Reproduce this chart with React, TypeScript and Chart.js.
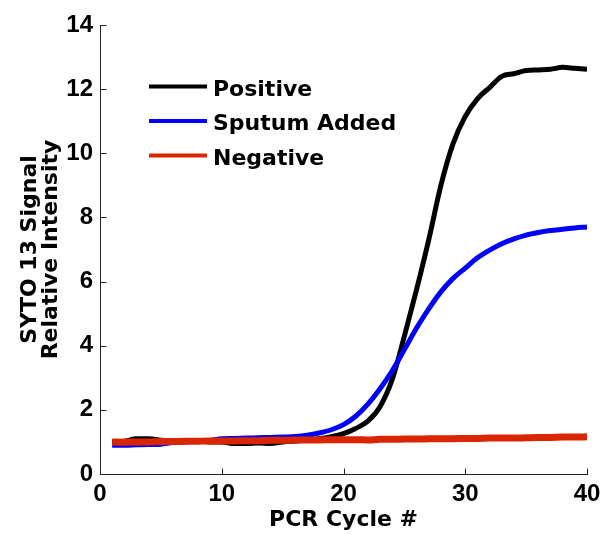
import React, { useEffect, useRef } from 'react';
import { Chart, registerables } from 'chart.js';

Chart.register(...registerables);

const cycles = [1, 2, 3, 4, 5, 6, 7, 8, 9, 10, 11, 12, 13, 14, 15, 16, 17, 18, 19, 20, 21, 22, 23, 24, 25, 26, 27, 28, 29, 30, 31, 32, 33, 34, 35, 36, 37, 38, 39, 40];

const positive = [1.0, 1.02, 1.1, 1.1, 1.05, 1.03, 1.02, 1.02, 1.0, 1.0, 0.95, 0.95, 0.97, 0.95, 1.0, 1.03, 1.06, 1.1, 1.16, 1.26, 1.42, 1.65, 2.1, 2.95, 4.3, 5.75, 7.3, 9.0, 10.3, 11.15, 11.7, 12.05, 12.4, 12.48, 12.58, 12.6, 12.62, 12.68, 12.65, 12.62];

const sputumAdded = [0.9, 0.9, 0.91, 0.92, 0.93, 0.98, 1.0, 1.02, 1.04, 1.1, 1.11, 1.12, 1.13, 1.14, 1.15, 1.17, 1.21, 1.28, 1.38, 1.54, 1.8, 2.18, 2.66, 3.22, 3.88, 4.55, 5.15, 5.68, 6.1, 6.42, 6.74, 6.98, 7.18, 7.33, 7.45, 7.53, 7.59, 7.63, 7.67, 7.7];

const negative = [1.0, 0.99, 1.0, 1.0, 1.01, 1.01, 1.02, 1.02, 1.03, 1.03, 1.03, 1.04, 1.04, 1.05, 1.05, 1.06, 1.06, 1.06, 1.07, 1.07, 1.07, 1.06, 1.08, 1.08, 1.09, 1.09, 1.1, 1.1, 1.1, 1.11, 1.11, 1.12, 1.12, 1.12, 1.13, 1.14, 1.14, 1.15, 1.15, 1.16];

const seriesLabels = ['Positive', 'Sputum Added', 'Negative'];
const seriesColors = ['#000000', '#0000ff', '#d92600'];
const xTicks = [0, 10, 20, 30, 40];
const yTicks = [0, 2, 4, 6, 8, 10, 12, 14];
const xTitle = 'PCR Cycle #';
const yTitle = ['SYTO 13 Signal', 'Relative Intensity'];

const titleFont = { family: '"DejaVu Sans", sans-serif', weight: 'bold' as const, size: 22 };
const tickFont = { family: '"Liberation Sans", Arial, sans-serif', weight: 'bold' as const, size: 24 };

const axesPlugin = {
  id: 'innerAxes',
  afterDraw(chart: any) {
    const { ctx, chartArea, scales } = chart;
    const xs = scales.x;
    const ys = scales.y;
    ctx.save();
    ctx.strokeStyle = '#222222';
    ctx.lineWidth = 1;
    const left = Math.round(chartArea.left) + 0.5;
    const bottom = Math.round(chartArea.bottom) + 0.5;
    ctx.beginPath();
    ctx.moveTo(left, Math.round(chartArea.top));
    ctx.lineTo(left, bottom);
    ctx.lineTo(Math.round(chartArea.right) + 1, bottom);
    ctx.stroke();
    xs.ticks.forEach((t: any) => {
      const px = Math.round(xs.getPixelForValue(t.value)) + 0.5;
      ctx.beginPath();
      ctx.moveTo(px, bottom);
      ctx.lineTo(px, bottom - 6);
      ctx.stroke();
    });
    ys.ticks.forEach((t: any) => {
      const py = Math.round(ys.getPixelForValue(t.value)) + 0.5;
      ctx.beginPath();
      ctx.moveTo(left, py);
      ctx.lineTo(left + 6, py);
      ctx.stroke();
    });
    ctx.restore();
  },
};

const legendPlugin = {
  id: 'innerLegend',
  afterDraw(chart: any) {
    const { ctx, chartArea } = chart;
    const x0 = chartArea.left + 49;
    const x1 = chartArea.left + 107;
    const tx = chartArea.left + 113;
    const rows = [63, 97.5, 132];
    ctx.save();
    ctx.font = `bold 22px "DejaVu Sans", sans-serif`;
    ctx.textBaseline = 'middle';
    ctx.textAlign = 'left';
    seriesLabels.forEach((label, i) => {
      const y = chartArea.top + rows[i];
      ctx.strokeStyle = seriesColors[i];
      ctx.lineWidth = 4;
      ctx.beginPath();
      ctx.moveTo(x0, y - 1.5);
      ctx.lineTo(x1, y - 1.5);
      ctx.stroke();
      ctx.fillStyle = '#000000';
      ctx.fillText(label, tx, y + 2);
    });
    ctx.restore();
  },
};

export default function App() {
  const canvasRef = useRef<HTMLCanvasElement | null>(null);

  useEffect(() => {
    const canvas = canvasRef.current;
    if (!canvas) return;
    const seriesValues = [positive, sputumAdded, negative];
    const widths = [5, 5, 7];
    const orders = [3, 2, 1];
    const chart = new Chart(canvas, {
      type: 'line',
      data: {
        datasets: seriesLabels.map((label, i) => ({
          label,
          data: cycles.map((c, j) => ({ x: c, y: seriesValues[i][j] })),
          borderColor: seriesColors[i],
          backgroundColor: seriesColors[i],
          borderWidth: widths[i],
          pointRadius: 0,
          fill: false,
          order: orders[i],
          cubicInterpolationMode: 'monotone' as const,
        })),
      },
      options: {
        animation: false,
        responsive: false,
        devicePixelRatio: 1,
        layout: { padding: { top: 25, right: 13, left: 0, bottom: 0 } },
        plugins: {
          legend: { display: false },
          tooltip: { enabled: false },
          title: { display: false },
        },
        scales: {
          x: {
            type: 'linear',
            min: 0,
            max: 40,
            grid: { display: false, drawTicks: false },
            border: { display: false },
            afterBuildTicks: (s: any) => {
              s.ticks = xTicks.map((v) => ({ value: v }));
            },
            afterFit: (s: any) => {
              s.height = 61;
              s.paddingLeft = 0;
              s.paddingRight = 0;
            },
            ticks: { color: '#000', font: tickFont, padding: 6, maxRotation: 0 },
            title: {
              display: true,
              text: xTitle,
              color: '#000',
              font: titleFont,
              padding: { top: 0, bottom: 1.5 },
            },
          },
          y: {
            type: 'linear',
            min: 0,
            max: 14,
            grid: { display: false, drawTicks: false },
            border: { display: false },
            afterBuildTicks: (s: any) => {
              s.ticks = yTicks.map((v) => ({ value: v }));
            },
            afterFit: (s: any) => {
              s.width = 100;
              s.paddingTop = 0;
              s.paddingBottom = 0;
            },
            ticks: { color: '#000', font: tickFont, padding: 7 },
            title: {
              display: true,
              text: yTitle,
              color: '#000',
              font: { ...titleFont, lineHeight: 0.93 },
              padding: { top: 20.5, bottom: 0 },
            },
          },
        },
      },
      plugins: [axesPlugin, legendPlugin],
    });
    return () => chart.destroy();
  }, []);

  return (
    <div style={{ position: 'absolute', left: 0, top: 0, width: 600, height: 535, background: '#fff' }}>
      <canvas ref={canvasRef} width={600} height={535} style={{ display: 'block' }} />
    </div>
  );
}
